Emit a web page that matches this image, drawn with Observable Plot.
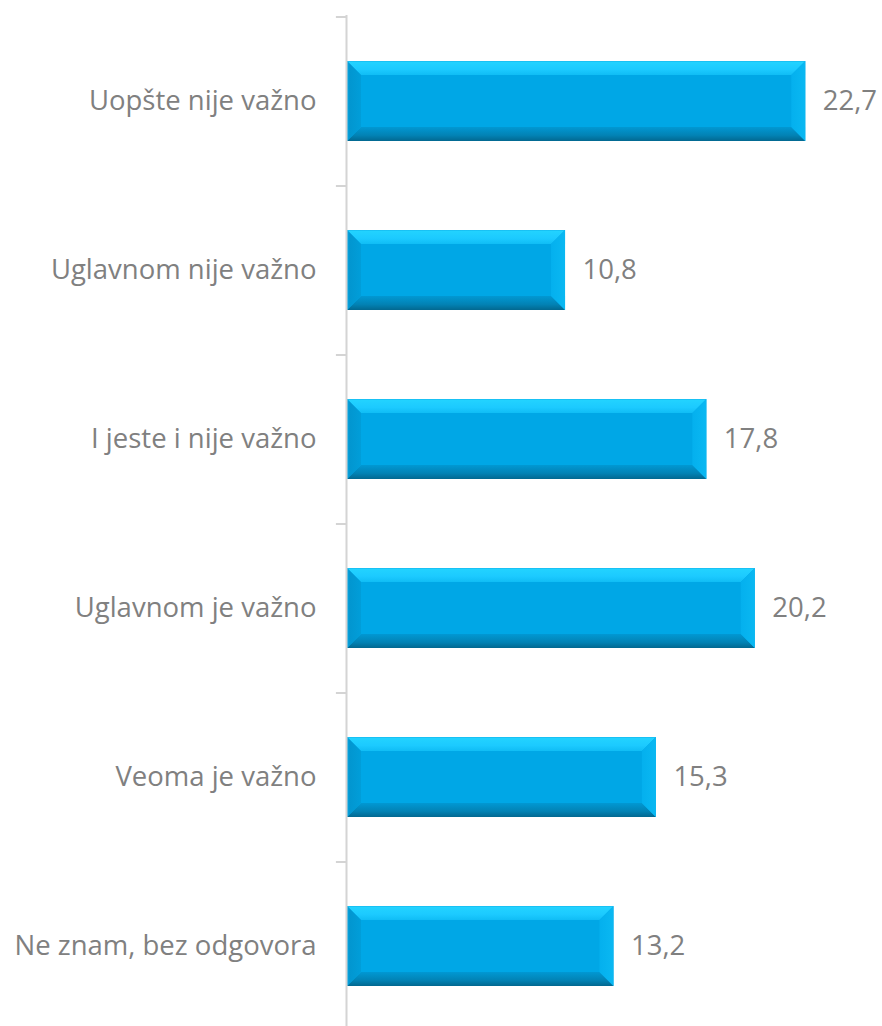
<!DOCTYPE html>
<html>
<head>
<meta charset="utf-8">
<script src="https://cdn.jsdelivr.net/npm/d3@7"></script>
<script src="https://cdn.jsdelivr.net/npm/@observablehq/plot@0.6"></script>
<style>
  html, body { margin: 0; padding: 0; background: #fff; }
</style>
</head>
<body>
<div id="chart"></div>
<script>
const categories = [
  "Uopšte nije važno",
  "Uglavnom nije važno",
  "I jeste i nije važno",
  "Uglavnom je važno",
  "Veoma je važno",
  "Ne znam, bez odgovora"
];
const values = [22.7, 10.8, 17.8, 20.2, 15.3, 13.2];
const valueLabels = ["22,7", "10,8", "17,8", "20,2", "15,3", "13,2"];

const data = categories.map((c, i) => ({category: c, value: values[i], label: valueLabels[i]}));

const fontFamily = "'Open Sans', 'Noto Sans', sans-serif";
const grey = "#808080";
const axisColor = "#d4d4d4";

const chart = Plot.plot({
  width: 882,
  height: 1026,
  marginLeft: 347,
  marginRight: 0,
  marginTop: 15,
  marginBottom: 0,
  style: {fontFamily, background: "#fff"},
  x: {domain: [0, 26.5], range: [347, 882], axis: null},
  y: {domain: categories, range: [16, 1030], paddingInner: 0.527, paddingOuter: 0.2635, align: 0.5, label: null},
  marks: [
    Plot.barX(data, {y: "category", x: "value", fill: "#00a7e6", className: "bevel-bars"}),
    Plot.ruleX([0], {stroke: axisColor, strokeWidth: 2, dx: -1}),
    Plot.ruleY(categories, {y: d => d, x1: -0.55, x2: -0.05, stroke: axisColor, strokeWidth: 2, dy: -84.5}),
    Plot.axisY({tickSize: 0, tickPadding: 31, fontSize: 27.5, fill: grey, color: grey, label: null}),
    Plot.text(data, {y: "category", x: "value", text: "label", dx: 17, textAnchor: "start", fontSize: 27.5, fill: grey})
  ]
});

document.getElementById("chart").appendChild(chart);

// Bevel decoration on the bars drawn by Plot
(function addBevels() {
  const svg = d3.select(chart);
  const defs = svg.insert("defs", ":first-child");
  function grad(id, x1, y1, x2, y2, stops) {
    const g = defs.append("linearGradient").attr("id", id)
      .attr("x1", x1).attr("y1", y1).attr("x2", x2).attr("y2", y2);
    stops.forEach(([o, c]) => g.append("stop").attr("offset", o).attr("stop-color", c));
  }
  grad("bvTop", 0, 0, 0, 1, [[0, "#14b8ee"], [0.1, "#22d2ff"], [0.6, "#1ccaff"], [1, "#10bdf5"]]);
  grad("bvBottom", 0, 0, 0, 1, [[0, "#0198d3"], [0.6, "#0282b4"], [1, "#026890"]]);
  grad("bvLeft", 0, 0, 1, 0, [[0, "#0ca8e2"], [0.2, "#0296d0"], [1, "#019ed9"]]);
  grad("bvRight", 0, 0, 1, 0, [[0, "#04b0ee"], [1, "#0ab8f2"]]);

  const rects = chart.querySelectorAll(".bevel-bars rect");
  rects.forEach(r => {
    const x = +r.getAttribute("x"), y = +r.getAttribute("y");
    const w = +r.getAttribute("width"), h = +r.getAttribute("height");
    const b = 14;
    const parent = d3.select(r.parentNode);
    const poly = (pts, fill) => parent.append("polygon")
      .attr("points", pts.map(p => p.join(",")).join(" "))
      .attr("fill", fill);
    poly([[x, y], [x + w, y], [x + w - b, y + b], [x + b, y + b]], "url(#bvTop)");
    poly([[x, y + h], [x + w, y + h], [x + w - b, y + h - b], [x + b, y + h - b]], "url(#bvBottom)");
    poly([[x, y], [x + b, y + b], [x + b, y + h - b], [x, y + h]], "url(#bvLeft)");
    poly([[x + w, y], [x + w - b, y + b], [x + w - b, y + h - b], [x + w, y + h]], "url(#bvRight)");
  });
})();
</script>
</body>
</html>
